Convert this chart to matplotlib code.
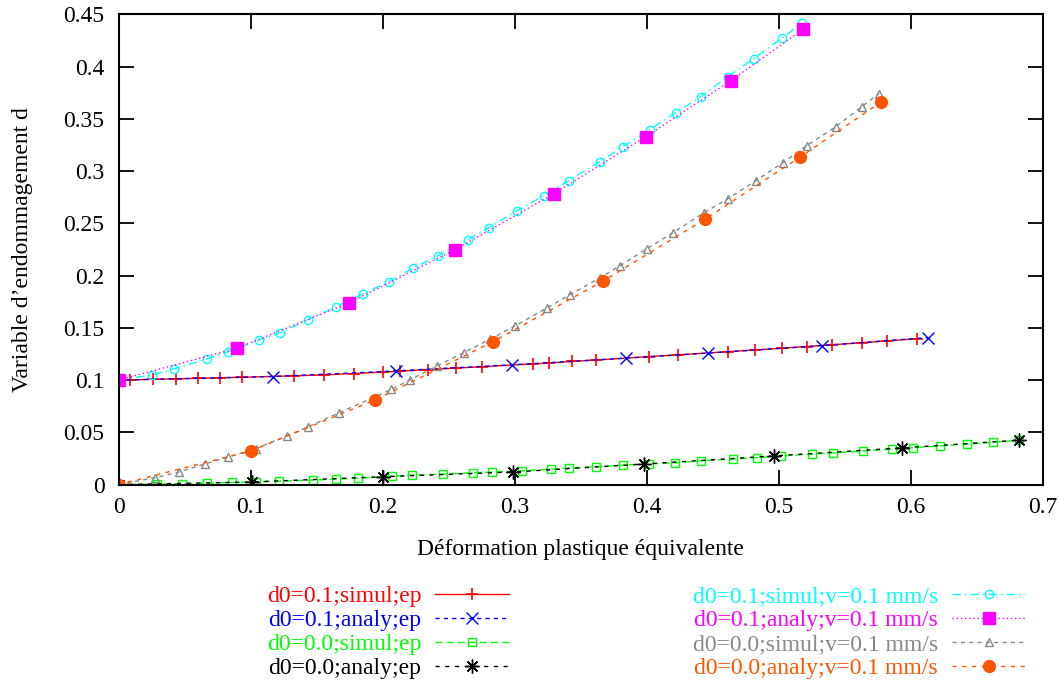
import matplotlib
matplotlib.use("Agg")
import matplotlib.pyplot as plt

plt.rcParams['font.family'] = ['Liberation Serif', 'DejaVu Serif']

# d0=0.1 ; simul ; ep
x_s01 = [0, 0.0087, 0.0259, 0.0435, 0.0604, 0.0768, 0.0937, 0.1329, 0.1556, 0.1785,
         0.2005, 0.2131, 0.2345, 0.2555, 0.2749, 0.3135, 0.3261, 0.3431, 0.3615, 0.4018,
         0.4238, 0.4612, 0.4818, 0.5020, 0.5210, 0.5403, 0.5631, 0.5815, 0.6042]
y_s01 = [0.1, 0.1002, 0.1007, 0.1012, 0.1017, 0.1022, 0.1027, 0.1041, 0.1050, 0.1063,
         0.1077, 0.1086, 0.1100, 0.1115, 0.1128, 0.1155, 0.1164, 0.1178, 0.1192, 0.1225,
         0.1242, 0.1272, 0.1288, 0.1305, 0.1321, 0.1338, 0.1358, 0.1375, 0.1396]
# d0=0.1 ; analy ; ep
x_a01 = [0, 0.117, 0.210, 0.298, 0.384, 0.446, 0.533, 0.613]
y_a01 = [0.1, 0.1034, 0.1088, 0.1146, 0.121, 0.1258, 0.133, 0.1407]
# d0=0.0 ; simul ; ep
x_s00 = [0, 0.0291, 0.048, 0.067, 0.0859, 0.104, 0.1215, 0.1472, 0.1646, 0.1813, 0.207,
         0.2222, 0.2457, 0.2684, 0.2828, 0.3055, 0.3274, 0.3410, 0.3615, 0.3819, 0.4016,
         0.4213, 0.4410, 0.4652, 0.4834, 0.5015, 0.5250, 0.5409, 0.5636, 0.5856, 0.6015,
         0.6219, 0.6423, 0.6620, 0.6817]
y_s00 = [0, 0.0006, 0.0008, 0.0013, 0.0021, 0.0027, 0.0033, 0.0044, 0.0052, 0.0062, 0.0080,
         0.0090, 0.0101, 0.0112, 0.0120, 0.0131, 0.0148, 0.0158, 0.0170, 0.0187, 0.0198,
         0.0208, 0.0228, 0.0245, 0.0257, 0.0274, 0.0292, 0.0303, 0.0322, 0.0340, 0.0352,
         0.0370, 0.0388, 0.0406, 0.0424]
# d0=0.0 ; analy ; ep
x_a00 = [0, 0.101, 0.200, 0.299, 0.398, 0.496, 0.593, 0.682]
y_a00 = [0, 0.0025, 0.0075, 0.0121, 0.0197, 0.0274, 0.0351, 0.0425]
# d0=0.1 ; simul ; v=0.1 mm/s
x_sv01 = [0, 0.0254, 0.042, 0.067, 0.0829, 0.1064, 0.1223, 0.1434, 0.1646, 0.185, 0.2047,
          0.223, 0.2419, 0.2646, 0.2805, 0.3017, 0.322, 0.341, 0.3645, 0.3819, 0.4023,
          0.422, 0.4412, 0.4613, 0.481, 0.502, 0.5174]
y_sv01 = [0.1, 0.105, 0.1107, 0.1203, 0.127, 0.1385, 0.1452, 0.1577, 0.1701, 0.1826, 0.194,
          0.207, 0.219, 0.2343, 0.2458, 0.262, 0.2765, 0.2908, 0.309, 0.3234, 0.3397,
          0.356, 0.3713, 0.3904, 0.4077, 0.4269, 0.4413]
# d0=0.1 ; analy ; v=0.1 mm/s
x_av01 = [0, 0.0897, 0.1745, 0.2547, 0.3297, 0.3993, 0.4637, 0.5182]
y_av01 = [0.1, 0.1305, 0.1739, 0.2247, 0.2784, 0.333, 0.3866, 0.4355]
# d0=0.0 ; simul ; v=0.1 mm/s
x_sv00 = [0, 0.0276, 0.0458, 0.0655, 0.0829, 0.104, 0.1276, 0.1435, 0.1669, 0.2065, 0.2207,
          0.2413, 0.2615, 0.281, 0.3002, 0.3244, 0.3418, 0.3645, 0.3796, 0.4001, 0.4198,
          0.4433, 0.4614, 0.4826, 0.5031, 0.5212, 0.5432, 0.5629, 0.5758]
y_sv00 = [0, 0.0066, 0.0121, 0.0198, 0.0264, 0.0345, 0.0466, 0.0552, 0.0686, 0.091, 0.1002,
          0.1136, 0.1263, 0.139, 0.1518, 0.1691, 0.1816, 0.1979, 0.2094, 0.2257, 0.241,
          0.2602, 0.2736, 0.2908, 0.3081, 0.3244, 0.3426, 0.3617, 0.3742]
# d0=0.0 ; analy ; v=0.1 mm/s
x_av00 = [0, 0.1003, 0.1942, 0.2833, 0.3667, 0.444, 0.5159, 0.5772]
y_av00 = [0, 0.0322, 0.081, 0.1366, 0.1946, 0.2539, 0.3133, 0.3659]

labels = ["d0=0.1;simul;ep", "d0=0.1;analy;ep", "d0=0.0;simul;ep", "d0=0.0;analy;ep",
          "d0=0.1;simul;v=0.1 mm/s", "d0=0.1;analy;v=0.1 mm/s",
          "d0=0.0;simul;v=0.1 mm/s", "d0=0.0;analy;v=0.1 mm/s"]

xticks = [0, 0.1, 0.2, 0.3, 0.4, 0.5, 0.6, 0.7]
xtick_labels = ["0", "0.1", "0.2", "0.3", "0.4", "0.5", "0.6", "0.7"]
yticks = [0, 0.05, 0.1, 0.15, 0.2, 0.25, 0.3, 0.35, 0.4, 0.45]
ytick_labels = ["0", "0.05", "0.1", "0.15", "0.2", "0.25", "0.3", "0.35", "0.4", "0.45"]

fig = plt.figure(figsize=(10.6, 6.81), dpi=100)
ax = fig.add_axes([0.1118, 0.2884, 0.8722, 0.6906])

lw = 1.0
ax.plot(x_s01, y_s01, color='#ff0000', lw=lw, ls='-', marker='+', ms=8, mew=1.2, label=labels[0])
ax.plot(x_a01, y_a01, color='#0000ff', lw=lw, ls=(0, (3, 3)), marker='x', ms=9, mew=1.0, label=labels[1])
ax.plot(x_s00, y_s00, color='#00ff00', lw=lw, ls=(0, (5, 3)), marker='s', ms=6, mew=1.0,
        mfc='none', label=labels[2])
ax.plot(x_a00, y_a00, color='black', lw=lw, ls=(0, (3, 4)), marker=(8, 2, 0), ms=10, mew=1.0,
        label=labels[3])
ax.plot(x_sv01, y_sv01, color='#00ffff', lw=lw, ls=(0, (6, 3, 1, 3)), marker='o', ms=6, mew=1.0,
        mfc='none', label=labels[4])
ax.plot(x_av01, y_av01, color='#ff00ff', lw=lw, ls=(0, (1, 2)), marker='s', ms=8.5, label=labels[5])
ax.plot(x_sv00, y_sv00, color='#888888', lw=lw, ls=(0, (3, 3)), marker='^', ms=6, mew=1.0,
        mfc='none', label=labels[6])
ax.plot(x_av00, y_av00, color='#ff5500', lw=lw, ls=(0, (3, 4)), marker='o', ms=8.5, label=labels[7])

ax.set_xlim(0, 0.7)
ax.set_ylim(0, 0.45)
ax.set_xticks(xticks)
ax.set_xticklabels(xtick_labels)
ax.set_yticks(yticks)
ax.set_yticklabels(ytick_labels)
ax.tick_params(direction='in', length=11, width=1.3, top=True, right=True, labelsize=17)
ax.tick_params(axis='x', pad=9)
ax.tick_params(axis='y', pad=10)
for s in ax.spines.values():
    s.set_linewidth(1.5)

ax.set_xlabel("Déformation plastique équivalente", fontsize=17, labelpad=15)
ax.set_ylabel("Variable d’endommagement d", fontsize=17, labelpad=22)

fig.legend(loc='upper left', bbox_to_anchor=(0.2516, 0.140), ncol=2, frameon=False,
           markerfirst=False, numpoints=1, labelcolor='linecolor', fontsize=17,
           handlelength=3.1, handletextpad=0.6, columnspacing=7.8, labelspacing=0.1,
           borderpad=0, borderaxespad=0)

fig.savefig("out.png", dpi=100)
